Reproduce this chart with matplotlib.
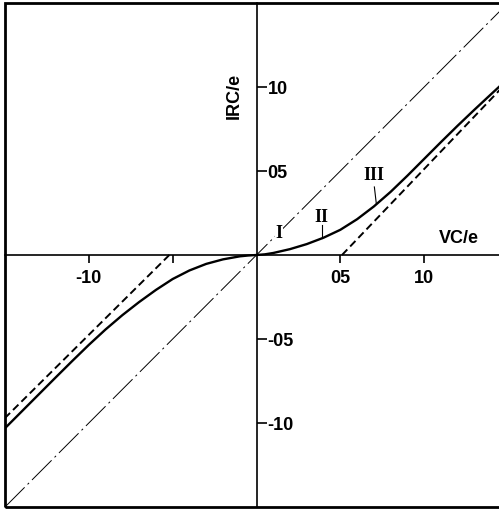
import numpy as np
import matplotlib
matplotlib.use("Agg")
import matplotlib.pyplot as plt
from matplotlib.patches import Rectangle

# Current-voltage curve, normalised units (V C/e, I R C/e)
v_curve = [-1.50, -1.40, -1.30, -1.20, -1.10, -1.00, -0.90, -0.80, -0.70,
           -0.60, -0.50, -0.40, -0.30, -0.20, -0.10, -0.05, 0.00,
           0.05, 0.10, 0.20, 0.30, 0.40, 0.50, 0.60, 0.70, 0.80, 0.90,
           1.00, 1.10, 1.20, 1.30, 1.40, 1.50]
i_curve = [-1.031, -0.931, -0.831, -0.731, -0.632, -0.535, -0.443, -0.358,
           -0.280, -0.208, -0.143, -0.092, -0.053, -0.026, -0.008, -0.003,
           0.000, 0.004, 0.012, 0.035, 0.065, 0.103, 0.150, 0.213, 0.289,
           0.376, 0.472, 0.572, 0.672, 0.770, 0.865, 0.958, 1.050]

# Ohmic line (I)
v_ohm = [-1.5, 1.5]
i_ohm = [-1.5, 1.5]

# Offset asymptotes (dashed)
v_asym_pos = [0.51, 1.50]
i_asym_pos = [0.00, 1.034]
v_asym_neg = [-0.52, -1.50]
i_asym_neg = [0.00, -0.97]

x_ticks = [-1.0, -0.5, 0.5, 1.0]
x_labels = ["-10", "", "05", "10"]
y_ticks = [-1.0, -0.5, 0.5, 1.0]
y_labels = ["-10", "-05", "05", "10"]

plt.rcParams['font.family'] = ['Liberation Sans', 'DejaVu Sans']
plt.rcParams['lines.scale_dashes'] = False

fig = plt.figure(figsize=(4.99, 5.10), dpi=100)
ax = fig.add_axes([5 / 499, 2 / 510, 503 / 499, 504 / 510])
ax.set_xlim(-1.5, 1.5)
ax.set_ylim(-1.5, 1.5)

# axes cross through the origin
for side in ("top", "right"):
    ax.spines[side].set_visible(False)
for side in ("left", "bottom"):
    ax.spines[side].set_position(("data", 0))
    ax.spines[side].set_linewidth(1.2)

# outer frame
ax.add_patch(Rectangle((0, 0), 1, 1, transform=ax.transAxes, fill=False,
                       lw=2.0, color="black", clip_on=False, zorder=5))

ax.plot(v_ohm, i_ohm, color="black", lw=0.7, dashes=(20, 3, 1.5, 3))
ax.plot(v_asym_pos, i_asym_pos, color="black", lw=1.4, dashes=(5.5, 3))
ax.plot(v_asym_neg, i_asym_neg, color="black", lw=1.4, dashes=(5.5, 3))
ax.plot(v_curve, i_curve, color="black", lw=1.7, solid_capstyle="round",
        solid_joinstyle="round")

ax.set_xticks(x_ticks, x_labels)
ax.set_yticks(y_ticks, y_labels)
ax.tick_params(axis="x", direction="out", length=6, width=1.2, pad=4,
               labelsize=13)
ax.tick_params(axis="y", direction="in", length=7, width=1.2, pad=-8,
               labelsize=13)
for lbl in ax.get_xticklabels() + ax.get_yticklabels():
    lbl.set_fontweight("bold")
for lbl in ax.get_yticklabels():
    lbl.set_horizontalalignment("left")

ax.text(1.09, 0.055, "VC/e", fontsize=13, fontweight="bold",
        ha="left", va="bottom")
ax.text(-0.13, 0.95, "IRC/e", fontsize=13, fontweight="bold",
        rotation=90, ha="center", va="center")

# regime labels with leaders down to the curve
roman = dict(family=["Liberation Serif", "DejaVu Serif"], fontsize=13,
             fontweight="bold", ha="center", va="center")
ax.text(0.133, 0.134, "I", bbox=dict(fc="white", ec="none", pad=0.5), **roman)
ax.text(0.39, 0.229, "II", **roman)
ax.text(0.703, 0.482, "III", **roman)
ax.plot([0.39, 0.39], [0.18, np.interp(0.39, v_curve, i_curve)],
        color="black", lw=0.8)
ax.plot([0.703, 0.715], [0.405, np.interp(0.715, v_curve, i_curve)],
        color="black", lw=0.8)

fig.savefig("out.png", dpi=100)
plt.close(fig)
